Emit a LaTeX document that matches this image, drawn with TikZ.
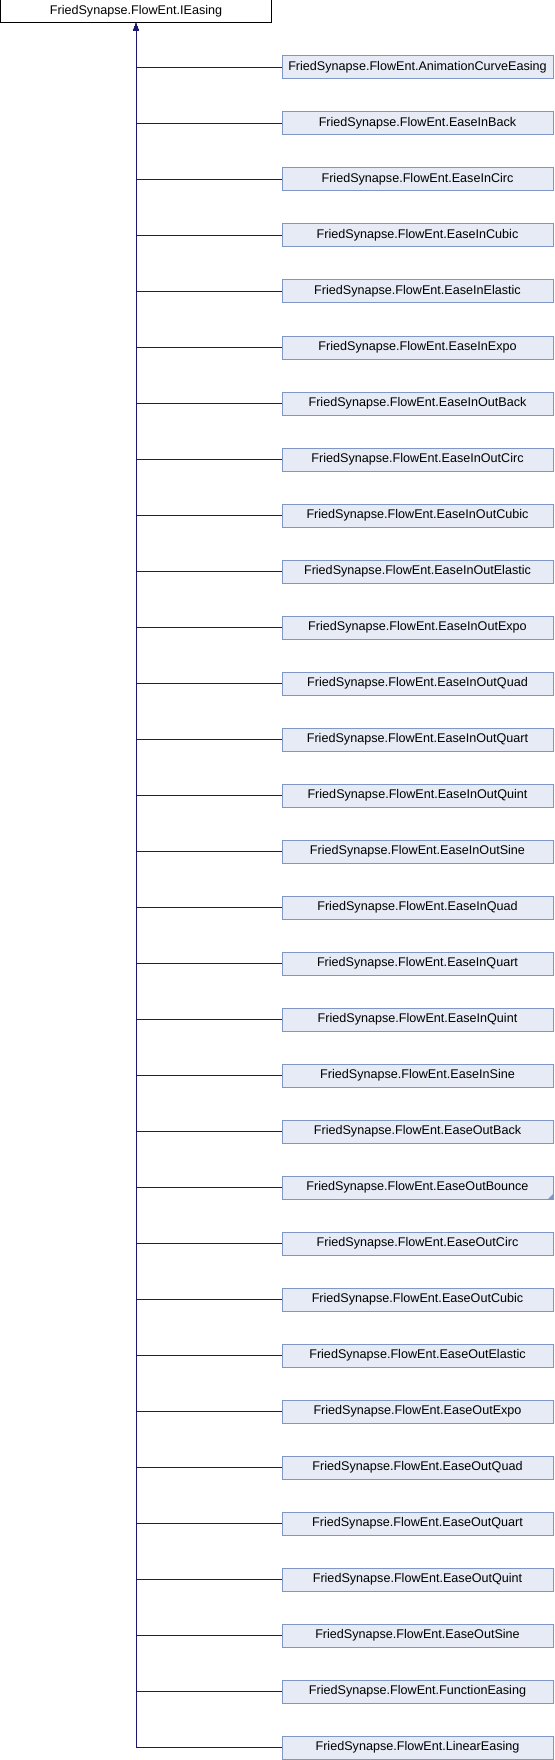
\documentclass[tikz,border=0pt]{standalone}
\usepackage{fontspec}
\setmainfont{Liberation Sans}
\usepackage{tikz}
\usetikzlibrary{arrows.meta}

\definecolor{edgeblue}{HTML}{191970}
\definecolor{boxline}{HTML}{7F96C6}
\definecolor{boxfill}{HTML}{E6EBF5}

\tikzset{
   classbox/.style={
      draw,
      line width = 1pt,
      minimum width = 271pt,
      minimum height = 23pt,
      inner sep = 0pt,
      font = \fontsize{12.6}{14}\selectfont
   },
   rootbox/.style={classbox, draw=black, fill=white},
   childbox/.style={classbox, draw=boxline, fill=boxfill},
   inherit/.style={
      draw=edgeblue,
      line width = 1pt,
      -{Triangle[width=5pt,length=7pt]}
   }
}

\begin{document}
\begin{tikzpicture}[x=1pt,y=-1pt]
   \useasboundingbox (0,0) rectangle (554,1760);

   \node[rootbox] (ieasing) at (136,11.5) {FriedSynapse.FlowEnt.IEasing};

   \foreach \cname [count=\i from 0] in {AnimationCurveEasing,EaseInBack,EaseInCirc,EaseInCubic,
      EaseInElastic,EaseInExpo,EaseInOutBack,EaseInOutCirc,EaseInOutCubic,EaseInOutElastic,
      EaseInOutExpo,EaseInOutQuad,EaseInOutQuart,EaseInOutQuint,EaseInOutSine,EaseInQuad,
      EaseInQuart,EaseInQuint,EaseInSine,EaseOutBack,EaseOutBounce,EaseOutCirc,EaseOutCubic,
      EaseOutElastic,EaseOutExpo,EaseOutQuad,EaseOutQuart,EaseOutQuint,EaseOutSine,
      FunctionEasing,LinearEasing}
   {
      \node[childbox] (c\i) at (417.5,67.5+56*\i) {FriedSynapse.FlowEnt.\cname};
      \draw[inherit] (c\i.west) -| (ieasing.south);
   }

   % marker for further derived classes
   \fill[boxline] (c20.south east) -- ++(0,-6) -- ++(-6,6) -- cycle;

\end{tikzpicture}
\end{document}
